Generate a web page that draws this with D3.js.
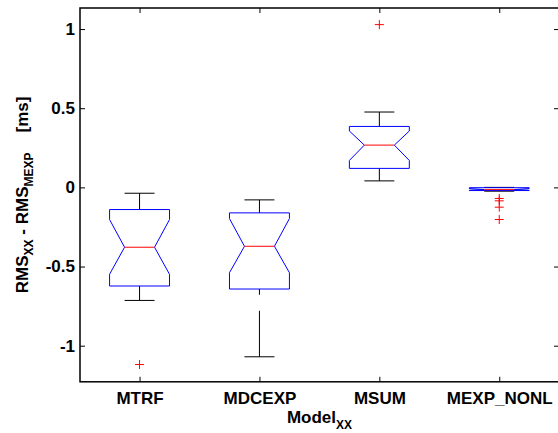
<!DOCTYPE html>
<meta charset="utf-8">
<style>
body { margin: 0; background: #fff; }
text {
  font-family: "Liberation Sans", Arial, sans-serif;
  font-weight: bold;
  font-size: 17px;
  fill: #000;
}
.frame { fill: none; stroke: #000; stroke-width: 1.5px; }
.tick line { stroke: #000; stroke-width: 1px; }
.box { fill: none; stroke: #0000ff; stroke-width: 1px; }
.median { stroke: #ff0000; stroke-width: 1px; }
.whisker { stroke: #000; stroke-width: 1px; stroke-dasharray: 46 16; }
.cap { stroke: #000; stroke-width: 1px; }
.outlier { stroke: #ff0000; stroke-width: 1px; }
</style>
<svg width="558" height="433"></svg>
<script src="https://d3js.org/d3.v7.min.js"></script>
<script>

var categories = ["MTRF", "MDCEXP", "MSUM", "MEXP_NONL"];
var upperWhisker = [-0.037, -0.079, 0.476, 0.000];
var q3 = [-0.140, -0.161, 0.385, -0.002];
var notchHi = [-0.203, -0.197, 0.356, -0.007];
var medians = [-0.378, -0.372, 0.267, -0.014];
var notchLo = [-0.549, -0.539, 0.170, -0.018];
var q1 = [-0.623, -0.642, 0.120, -0.020];
var lowerWhisker = [-0.714, -1.070, 0.041, -0.024];
var outliers = [[-1.119], [], [1.028], [-0.070, -0.085, -0.125, -0.203]];
var yTicks = [-1, -0.5, 0, 0.5, 1];

var svg = d3.select("svg");
// note: "top" is taken by window.top, so use plot* names
var plotLeft = 80, plotRight = 559, plotTop = 8, plotBottom = 381.8;

var x = d3.scaleLinear().domain([0.5, 4.5]).range([79.6, 559.2]);
var y = d3.scaleLinear().domain([-1.228, 1.133]).range([plotBottom, plotTop]);

var stats = categories.map(function(c, i) {
  return {
    name: c, pos: i + 1,
    wHi: upperWhisker[i], q3: q3[i], nHi: notchHi[i], med: medians[i],
    nLo: notchLo[i], q1: q1[i], wLo: lowerWhisker[i], out: outliers[i]
  };
});

var boxW = 0.25, notchW = 0.125, capW = 0.125;

var g = svg.append("g");

// whiskers are drawn from the cap towards the box (dash pattern starts at the cap)
g.selectAll(".whiskerHi")
  .data(stats)
  .enter().append("line")
    .attr("class", "whisker")
    .attr("x1", function(d) { return x(d.pos); })
    .attr("x2", function(d) { return x(d.pos); })
    .attr("y1", function(d) { return y(d.wHi); })
    .attr("y2", function(d) { return y(d.q3); });

g.selectAll(".whiskerLo")
  .data(stats)
  .enter().append("line")
    .attr("class", "whisker")
    .attr("x1", function(d) { return x(d.pos); })
    .attr("x2", function(d) { return x(d.pos); })
    .attr("y1", function(d) { return y(d.wLo); })
    .attr("y2", function(d) { return y(d.q1); });

["wHi", "wLo"].forEach(function(k) {
  g.selectAll(".cap-" + k)
    .data(stats)
    .enter().append("line")
      .attr("class", "cap")
      .attr("x1", function(d) { return x(d.pos - capW); })
      .attr("x2", function(d) { return x(d.pos + capW); })
      .attr("y1", function(d) { return y(d[k]); })
      .attr("y2", function(d) { return y(d[k]); });
});

var boxLine = d3.line();
g.selectAll(".box")
  .data(stats)
  .enter().append("path")
    .attr("class", "box")
    .attr("d", function(d) {
      var p = d.pos;
      return boxLine([
        [x(p - boxW), y(d.q3)], [x(p + boxW), y(d.q3)],
        [x(p + boxW), y(d.nHi)], [x(p + notchW), y(d.med)],
        [x(p + boxW), y(d.nLo)], [x(p + boxW), y(d.q1)],
        [x(p - boxW), y(d.q1)], [x(p - boxW), y(d.nLo)],
        [x(p - notchW), y(d.med)], [x(p - boxW), y(d.nHi)]
      ]) + "Z";
    });

g.selectAll(".median")
  .data(stats)
  .enter().append("line")
    .attr("class", "median")
    .attr("x1", function(d) { return x(d.pos - notchW); })
    .attr("x2", function(d) { return x(d.pos + notchW); })
    .attr("y1", function(d) { return y(d.med); })
    .attr("y2", function(d) { return y(d.med); });

var outPts = [];
stats.forEach(function(d) {
  d.out.forEach(function(v) { outPts.push({ pos: d.pos, v: v }); });
});

g.selectAll(".outlier")
  .data(outPts)
  .enter().append("path")
    .attr("class", "outlier")
    .attr("d", function(d) {
      var cx = x(d.pos), cy = y(d.v);
      return "M" + (cx - 4.5) + "," + cy + "H" + (cx + 4.5) +
             "M" + cx + "," + (cy - 4.5) + "V" + (cy + 4.5);
    });

// axes, ticks pointing inward on all four sides
var xTickVals = [1, 2, 3, 4];
function clean(a) {
  a.select(".domain").remove();
  a.attr("font-size", null).attr("font-family", null);
}

svg.append("g")
    .attr("transform", "translate(0," + plotBottom + ")")
    .call(d3.axisBottom(x).tickValues(xTickVals).tickSize(-5).tickSizeOuter(0)
      .tickPadding(10).tickFormat(function(d) { return categories[d - 1]; }))
    .call(clean);

svg.append("g")
    .attr("transform", "translate(0," + plotTop + ")")
    .call(d3.axisTop(x).tickValues(xTickVals).tickSize(-5).tickSizeOuter(0).tickFormat(""))
    .call(clean);

svg.append("g")
    .attr("transform", "translate(" + plotLeft + ",0)")
    .call(d3.axisLeft(y).tickValues(yTicks).tickSize(-5).tickSizeOuter(0).tickPadding(5)
      .tickFormat(function(d) { return String(d); }))
    .call(clean);

svg.append("g")
    .attr("transform", "translate(" + plotRight + ",0)")
    .call(d3.axisRight(y).tickValues(yTicks).tickSize(-5).tickSizeOuter(0).tickFormat(""))
    .call(clean);

svg.append("rect")
    .attr("class", "frame")
    .attr("x", plotLeft).attr("y", plotTop)
    .attr("width", plotRight - plotLeft).attr("height", plotBottom - plotTop);

// axis labels
var xl = svg.append("text")
    .attr("x", (plotLeft + plotRight) / 2)
    .attr("y", 423)
    .attr("text-anchor", "middle");
xl.append("tspan").text("Model");
xl.append("tspan").attr("font-size", 12).attr("dy", 6).text("XX");

var yl = svg.append("text")
    .attr("transform", "translate(28," + ((plotTop + plotBottom) / 2) + ") rotate(-90)")
    .attr("text-anchor", "middle");
yl.append("tspan").text("RMS");
yl.append("tspan").attr("font-size", 12).attr("dy", 5).text("XX");
yl.append("tspan").attr("dy", -5).text(" - RMS");
yl.append("tspan").attr("font-size", 12).attr("dy", 5).text("MEXP");
yl.append("tspan").attr("dy", -5).attr("dx", 20).text("[ms]");

</script>
